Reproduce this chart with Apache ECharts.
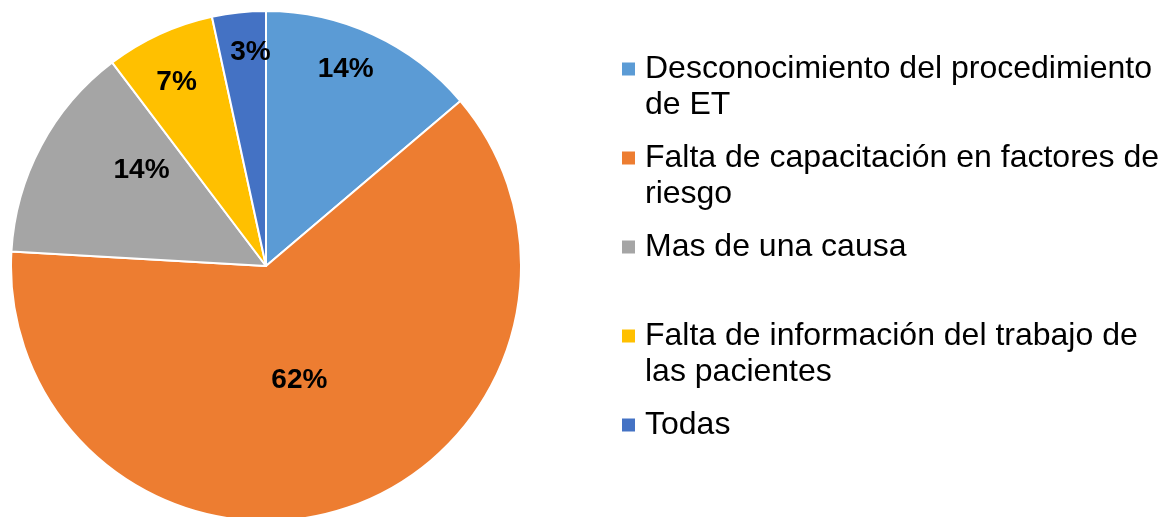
<!DOCTYPE html>
<html>
<head>
<meta charset="utf-8">
<script src="https://cdn.jsdelivr.net/npm/echarts@6/dist/echarts.min.js"></script>
<style>
    html, body { margin: 0; padding: 0; background: #fff; }
    #chart { width: 1167px; height: 517px; }
</style>
</head>
<body>
<div id="chart"></div>
<script>
// datos del grafico
const categories = [
    'Desconocimiento del procedimiento de ET',
    'Falta de capacitación en factores de riesgo',
    'Mas de una causa',
    'Falta de información del trabajo de las pacientes',
    'Todas'
];
const legendLines = [
    ['Desconocimiento del procedimiento', 'de ET'],
    ['Falta de capacitación en factores de', 'riesgo'],
    ['Mas de una causa'],
    ['Falta de información del trabajo de', 'las pacientes'],
    ['Todas']
];
const values = [13.8, 62.1, 13.8, 6.9, 3.4];
const colors = ['#5B9BD5', '#ED7D31', '#A5A5A5', '#FFC000', '#4472C4'];

// posicion de las etiquetas: fraccion del radio y giro en grados
const labelRadius = [0.84, 0.46, 0.62, 0.81, 0.85];
const labelTurn = [-3, 2, 10, -1, 2];

const CX = 266, CY = 266, R = 255;

const chart = echarts.init(document.getElementById('chart'));

let pieData = [];
for (let i = 0; i < categories.length; i++) {
    pieData.push({ name: categories[i], value: values[i], itemStyle: { color: colors[i] } });
}

const option = {
    animation: false,
    legend: {
        orient: 'vertical',
        left: 622,
        top: 15,
        padding: 0,
        itemGap: -19,
        itemWidth: 13,
        itemHeight: 13,
        icon: 'rect',
        selectedMode: false,
        itemStyle: { borderWidth: 0 },
        data: categories,
        // tres lineas por elemento para que el icono quede en la primera linea
        formatter: function (name) {
            const lines = legendLines[categories.indexOf(name)];
            return lines.length > 1
                ? ' \n' + lines.join('\n')
                : ' \n' + lines[0] + '\n ';
        },
        textStyle: {
            fontFamily: 'Liberation Sans',
            fontSize: 32,
            lineHeight: 36,
            color: '#000',
            padding: [0, 0, 0, 5]
        }
    },
    series: [
        {
            type: 'pie',
            center: [CX, CY],
            radius: R,
            startAngle: 90,
            clockwise: true,
            silent: true,
            itemStyle: {
                borderColor: '#fff',
                borderWidth: 2
            },
            label: {
                show: true,
                position: 'inside',
                fontFamily: 'Liberation Sans',
                fontSize: 28,
                fontWeight: 'bold',
                color: '#000',
                formatter: function (p) {
                    return Math.round(p.percent) + '%';
                }
            },
            labelLine: { show: false },
            labelLayout: function (params) {
                const i = params.dataIndex;
                const r = params.labelRect;
                const lx = r.x + r.width / 2;
                const ly = r.y + r.height / 2;
                const a = Math.atan2(ly - CY, lx - CX) + labelTurn[i] * Math.PI / 180;
                return {
                    x: CX + Math.cos(a) * R * labelRadius[i],
                    y: CY + Math.sin(a) * R * labelRadius[i] + 2
                };
            },
            data: pieData
        }
    ]
};

chart.setOption(option);
</script>
</body>
</html>
